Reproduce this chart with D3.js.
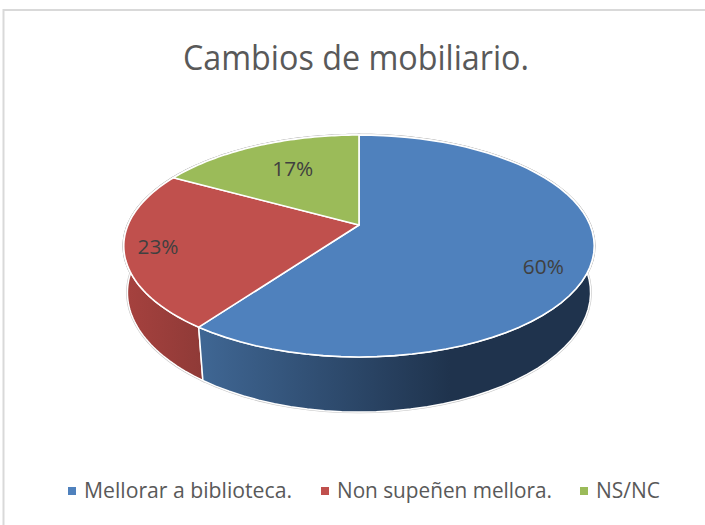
<!DOCTYPE html>
<html><head><meta charset="utf-8">
<script src="https://cdn.jsdelivr.net/npm/d3@7/dist/d3.min.js"></script>
<style>html,body{margin:0;padding:0;background:#fff}svg{display:block}text{font-family:"Open Sans",Lato,sans-serif}</style>
</head><body><script>
const categories = ["Mellorar a biblioteca.", "Non supeñen mellora.", "NS/NC"];
const values = [60, 23, 17];
const percentLabels = ["60%", "23%", "17%"];
const titleText = "Cambios de mobiliario.";

const topColors = ["#4f81bd", "#c0504d", "#9bbb59"];
const wallStops = [["#3f6693", "#1f334d"], ["#a5413e", "#8f3a37"], ["#7a9446", "#66803a"]];
const labelPlace = [{r:.8, dy:14}, {r:.86, dy:1}, {r:.62, dy:-4}];
const legendWidths = [208, 215, 64];
const labelWidth = 41;
const titleWidth = 346;

const W = 705, H = 525;
const svg = d3.select("body").append("svg").attr("width", W).attr("height", H);
const defs = svg.append("defs");

svg.append("path").attr("d", `M3.5,${H}V10H${W}`).attr("fill", "none").attr("stroke", "#d9d9d9").attr("stroke-width", 2);

// perspective projection of the pie disc
const cx = 359, cy = 225, B = 231, A = 107, k = -0.189;
const Bb = 228, Ab = 104.7, Db = 47, kb = -0.175, kby = -0.189;
const topPt = t => { const u = Math.sin(t), v = -Math.cos(t), d = 1 + k * v; return [cx + B * u / d, cy + A * v / d]; };
const botPt = t => { const u = Math.sin(t), v = -Math.cos(t); return [cx + Bb * u / (1 + kb * v), cy + (Ab * v + Db) / (1 + kby * v)]; };
const innerPt = (t, r) => { const u = Math.sin(t) * r, v = -Math.cos(t) * r, d = 1 + k * v; return [cx + B * u / d, cy + A * v / d]; };

const pie = d3.pie().value(d => d).sort(null);
const arcs = pie(values);
const line = d3.line();
const rim = a => d3.range(0, 61).map(i => a.startAngle + (a.endAngle - a.startAngle) * i / 60);

const wallPath = a => line(rim(a).map(topPt).concat(rim(a).reverse().map(botPt))) + "Z";
const topPath = a => line([[cx, cy]].concat(rim(a).map(topPt))) + "Z";

const grads = [[203, 450], [128, 203], [170, 359]];
arcs.forEach((a, i) => {
  const g = defs.append("linearGradient").attr("id", "w" + i).attr("gradientUnits", "userSpaceOnUse")
    .attr("x1", grads[i][0]).attr("x2", grads[i][1]).attr("y1", 0).attr("y2", 0);
  g.append("stop").attr("offset", 0).attr("stop-color", wallStops[i][0]);
  g.append("stop").attr("offset", 1).attr("stop-color", wallStops[i][1]);
});

const halo = svg.append("g").attr("fill", "none").attr("stroke", "#c4c4c4").attr("stroke-width", 2.6);
arcs.forEach(a => { halo.append("path").attr("d", wallPath(a)); halo.append("path").attr("d", topPath(a)); });

const order = [2, 1, 0];
const walls = svg.append("g");
order.forEach(i => walls.append("path").attr("d", wallPath(arcs[i])).attr("fill", `url(#w${i})`)
  .attr("stroke", "#fff").attr("stroke-width", 1.5).attr("stroke-linejoin", "round"));
const tops = svg.append("g");
arcs.forEach((a, i) => tops.append("path").attr("d", topPath(a)).attr("fill", topColors[i])
  .attr("stroke", "#fff").attr("stroke-width", 1.6).attr("stroke-linejoin", "round"));

arcs.forEach((a, i) => {
  const p = innerPt((a.startAngle + a.endAngle) / 2, labelPlace[i].r);
  svg.append("text").attr("x", p[0] - labelWidth / 2).attr("y", p[1] + labelPlace[i].dy).attr("dy", "0.35em")
    .attr("font-size", 20.5).attr("textLength", labelWidth).attr("lengthAdjust", "spacingAndGlyphs")
    .attr("fill", "#404040").text(percentLabels[i]);
});

svg.append("text").attr("x", 356 - titleWidth / 2).attr("y", 70)
  .attr("font-size", 34.5).attr("textLength", titleWidth).attr("lengthAdjust", "spacingAndGlyphs")
  .attr("fill", "#595959").text(titleText);

const legX = [68, 321, 580];
const legend = svg.append("g");
categories.forEach((c, i) => {
  legend.append("rect").attr("x", legX[i]).attr("y", 487).attr("width", 8).attr("height", 8).attr("fill", topColors[i]);
  legend.append("text").attr("x", legX[i] + 16).attr("y", 498).attr("font-size", 22)
    .attr("textLength", legendWidths[i]).attr("lengthAdjust", "spacingAndGlyphs").attr("fill", "#595959").text(c);
});
</script></body></html>
